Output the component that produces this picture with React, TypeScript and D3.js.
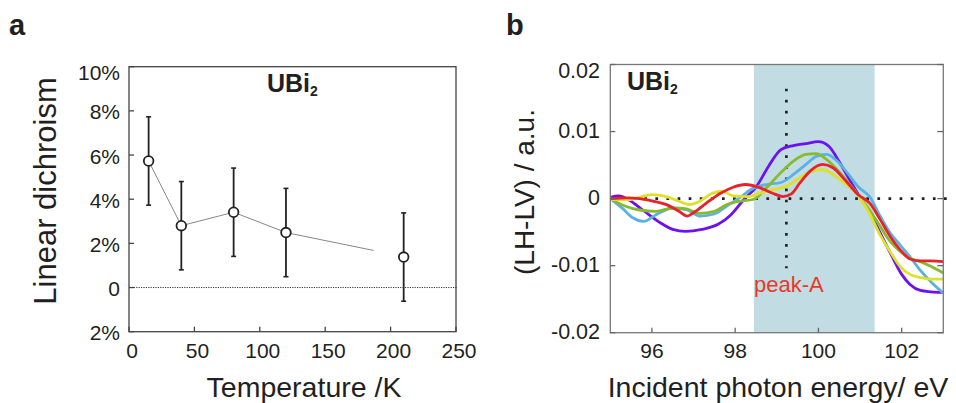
import React from "react";
import * as d3 from "d3";

// ---- panel a data ----
const temperatures = [15, 40, 80, 120, 210];
const dichroism = [5.73, 2.8, 3.41, 2.49, 1.38];
const dichroismErr = [2.0, 2.0, 2.0, 2.0, 2.0];
const guideT = [15, 40, 80, 120, 187];
const guideV = [5.73, 2.8, 3.41, 2.49, 1.68];
const tempTicks = [0, 50, 100, 150, 200, 250];
const ldTicks = [-2, 0, 2, 4, 6, 8, 10];
const ldTickLabels = ["2%", "0", "2%", "4%", "6%", "8%", "10%"];

// ---- panel b data ----
const energyTicks = [96, 98, 100, 102];
const ldSignalTicks = [-0.02, -0.01, 0, 0.01, 0.02];
const ldSignalLabels = ["-0.02", "-0.01", "0", "0.01", "0.02"];
const peakBand = [98.45, 101.35];
const peakLine = 99.23;

const purpleCurve: [number, number][] = [
  [95.0, 0.0002], [95.2, 0.0004], [95.45, -0.0002], [95.8, -0.0018], [96.2, -0.0036],
  [96.5, -0.0046], [96.8, -0.0049], [97.2, -0.0046], [97.6, -0.0038], [97.9, -0.0024],
  [98.2, -0.0002], [98.5, 0.0017], [98.8, 0.0048], [99.1, 0.0073], [99.4, 0.0079],
  [99.7, 0.0082], [100.0, 0.0085], [100.25, 0.0078], [100.5, 0.0055], [100.75, 0.0028],
  [101.0, 0.0002], [101.25, -0.0022], [101.5, -0.0053], [101.75, -0.0084], [102.0, -0.0113],
  [102.2, -0.0128], [102.45, -0.0137], [102.7, -0.0139], [103.0, -0.014],
];
const blueCurve: [number, number][] = [
  [95.0, 0], [95.3, -0.0015], [95.55, -0.0029], [95.8, -0.0034], [96.1, -0.0024],
  [96.5, -0.0014], [96.85, -0.0017], [97.15, -0.0026], [97.5, -0.0023], [97.8, -0.0011],
  [98.1, 0.0001], [98.45, 0.0016], [98.75, 0.0021], [99.1, 0.0024], [99.4, 0.0036],
  [99.7, 0.0051], [99.95, 0.0063], [100.2, 0.0066], [100.45, 0.0056], [100.7, 0.0038],
  [100.95, 0.0018], [101.24, 0.0002], [101.48, -0.0026], [101.72, -0.0051], [101.96, -0.0069],
  [102.2, -0.0087], [102.45, -0.0107], [102.7, -0.0124], [103.0, -0.0141],
];
const greenCurve: [number, number][] = [
  [95.0, 0], [95.35, -0.0011], [95.7, -0.0017], [96.1, -0.0019], [96.5, -0.0014],
  [96.8, -0.0015], [97.15, -0.0022], [97.5, -0.0019], [97.8, -0.0009], [98.1, -0.0004],
  [98.45, -0.0001], [98.75, 0.0016], [99.1, 0.0039], [99.4, 0.0056], [99.7, 0.0066],
  [99.95, 0.0067], [100.2, 0.0058], [100.45, 0.0043], [100.7, 0.0025], [100.95, 0.0006],
  [101.2, -0.0015], [101.45, -0.0038], [101.7, -0.0062], [101.95, -0.0078], [102.2, -0.0089],
  [102.45, -0.0094], [102.7, -0.0101], [103.0, -0.0111],
];
const yellowCurve: [number, number][] = [
  [95.0, -0.0001], [95.4, -0.0002], [95.7, 0.0002], [96.0, 0.0006], [96.35, 0.0003],
  [96.65, -0.0004], [96.9, -0.0009], [97.15, -0.0004], [97.45, 0.0008], [97.7, 0.0011],
  [97.95, 0.0004], [98.3, 0.0003], [98.6, 0.0008], [98.9, 0.0013], [99.25, 0.0019],
  [99.55, 0.0031], [99.85, 0.0041], [100.1, 0.0043], [100.35, 0.0036], [100.65, 0.0022],
  [100.9, 0.0009], [101.2, -0.0019], [101.48, -0.0054], [101.72, -0.0079], [101.96, -0.0101],
  [102.2, -0.0113], [102.45, -0.0118], [102.7, -0.012], [103.0, -0.012],
];
const redCurve: [number, number][] = [
  [95.0, 0], [95.4, 0.0001], [95.7, 0], [96.05, -0.0004], [96.35, -0.0009],
  [96.65, -0.0019], [96.85, -0.0026], [97.0, -0.0021], [97.3, -0.0007], [97.65, 0.0008],
  [97.95, 0.0017], [98.25, 0.0021], [98.6, 0.0016], [98.9, 0.0008], [99.15, 0.0003],
  [99.35, 0.0007], [99.55, 0.0023], [99.8, 0.0041], [100.1, 0.0051], [100.35, 0.0046],
  [100.65, 0.0027], [100.95, 0.0006], [101.25, -0.0008], [101.48, -0.0031], [101.72, -0.0056],
  [101.96, -0.0076], [102.2, -0.009], [102.45, -0.0093], [102.7, -0.0093], [103.0, -0.0094],
];
const curves = [
  { name: "purple", color: "#6d12ee", pts: purpleCurve },
  { name: "blue", color: "#5cb1e3", pts: blueCurve },
  { name: "green", color: "#86bb30", pts: greenCurve },
  { name: "yellow", color: "#dfe028", pts: yellowCurve },
  { name: "red", color: "#e7222b", pts: redCurve },
];

const font = "'Liberation Sans', Arial, Helvetica, sans-serif";
const ink = "#231f20";

function PanelA() {
  const L = 129, R = 456, T = 66.7, B = 331.7;
  const x = d3.scaleLinear().domain([0, 250]).range([L, R]);
  const y = d3.scaleLinear().domain([-2, 10]).range([B, T]);
  const guide = d3.line<number>().x((_, i) => x(guideT[i])).y((v) => y(v));

  return (
    <g>
      <text x={9} y={35} fontSize={29} fontWeight="bold" fill={ink}>a</text>
      {/* zero line */}
      <line x1={L} x2={R + 1} y1={y(0)} y2={y(0)} stroke="#333" strokeWidth={1} strokeDasharray="1.2 1.2" />
      {/* frame */}
      <rect x={L} y={T} width={R - L} height={B - T} fill="none" stroke="#444" strokeWidth={1.3} />
      {tempTicks.map((t) => (
        <g key={"tx" + t}>
          <line x1={x(t)} x2={x(t)} y1={B} y2={B - 5} stroke="#444" strokeWidth={1.3} />
          <text x={x(t) + 3} y={358} textAnchor="middle" fontSize={21} fill={ink}>{t}</text>
        </g>
      ))}
      {ldTicks.map((v, i) => (
        <g key={"ty" + v}>
          <line x1={L} x2={L + 5} y1={y(v)} y2={y(v)} stroke="#444" strokeWidth={1.3} />
          <text x={120} y={Math.max(y(v), T + 5) + 3} textAnchor="end" dominantBaseline="middle" fontSize={21} fill={ink}>
            {ldTickLabels[i]}
          </text>
        </g>
      ))}
      <path d={guide(guideV) || ""} fill="none" stroke="#888" strokeWidth={1} />
      {temperatures.map((t, i) => (
        <g key={"p" + t}>
          <line x1={x(t)} x2={x(t)} y1={y(dichroism[i] - dichroismErr[i])} y2={y(dichroism[i] + dichroismErr[i])} stroke="#222" strokeWidth={1.8} />
          <line x1={x(t) - 2.5} x2={x(t) + 2.5} y1={y(dichroism[i] + dichroismErr[i])} y2={y(dichroism[i] + dichroismErr[i])} stroke="#222" strokeWidth={1.6} />
          <line x1={x(t) - 2.5} x2={x(t) + 2.5} y1={y(dichroism[i] - dichroismErr[i])} y2={y(dichroism[i] - dichroismErr[i])} stroke="#222" strokeWidth={1.6} />
          <circle cx={x(t)} cy={y(dichroism[i])} r={4.8} fill="#fff" stroke="#222" strokeWidth={1.8} />
        </g>
      ))}
      <text x={267} y={92} fontSize={25} fontWeight="bold" fill={ink}>
        UBi<tspan fontSize={14} dy={4}>2</tspan>
      </text>
      <text x={48} y={191} transform="rotate(-90 48 191)" textAnchor="middle" dominantBaseline="middle" fontSize={31} fill={ink}>
        Linear dichroism
      </text>
      <text x={304} y={397} textAnchor="middle" fontSize={28.5} fill={ink}>Temperature /K</text>
    </g>
  );
}

function PanelB() {
  const L = 610.3, R = 943.3, T = 64.5, B = 332.7;
  const x = d3.scaleLinear().domain([95, 103]).range([L, R]);
  const y = d3.scaleLinear().domain([-0.02, 0.02]).range([B, T]);
  const line = d3
    .line<[number, number]>()
    .x((d) => x(d[0]))
    .y((d) => y(d[1]))
    .curve(d3.curveMonotoneX);

  return (
    <g>
      <text x={506} y={35} fontSize={29} fontWeight="bold" fill={ink}>b</text>
      <defs>
        <clipPath id="clipB">
          <rect x={L} y={T} width={R - L} height={B - T} />
        </clipPath>
      </defs>
      <rect x={x(peakBand[0])} y={T} width={x(peakBand[1]) - x(peakBand[0])} height={B - T} fill="#c1dce2" />
      {/* dotted guides */}
      <line x1={x(95.55)} x2={x(103.15)} y1={y(0)} y2={y(0)} stroke="#222" strokeWidth={2.7} strokeDasharray="2.7 8.4" />
      <line x1={x(peakLine)} x2={x(peakLine)} y1={y(0.0164)} y2={y(-0.0104)} stroke="#222" strokeWidth={2.7} strokeDasharray="2.7 8.4" />
      <g clipPath="url(#clipB)">
        {curves.map((c) => (
          <path key={c.name} d={line(c.pts) || ""} fill="none" stroke={c.color} strokeWidth={2.8} strokeLinejoin="round" />
        ))}
      </g>
      {/* frame */}
      <rect x={L} y={T} width={R - L} height={B - T} fill="none" stroke="#777" strokeWidth={1.3} />
      {energyTicks.map((e) => (
        <g key={"ex" + e}>
          <line x1={x(e)} x2={x(e)} y1={B} y2={B - 5} stroke="#666" strokeWidth={1.3} />
          <text x={x(e)} y={358} textAnchor="middle" fontSize={21} fill={ink}>{e}</text>
        </g>
      ))}
      {ldSignalTicks.map((v, i) => (
        <g key={"ey" + v}>
          <line x1={L} x2={L + 5} y1={y(v)} y2={y(v)} stroke="#666" strokeWidth={1.3} />
          <line x1={R} x2={R - 6} y1={y(v)} y2={y(v)} stroke="#666" strokeWidth={1.3} />
          <text x={600} y={Math.max(y(v), T + 7) + 1} textAnchor="end" dominantBaseline="middle" fontSize={21.5} fill={ink}>
            {ldSignalLabels[i]}
          </text>
        </g>
      ))}
      <text x={754} y={292} fontSize={22} fill="#e8392b">peak-A</text>
      <text x={627} y={90} fontSize={25} fontWeight="bold" fill={ink}>
        UBi<tspan fontSize={14} dy={4}>2</tspan>
      </text>
      <text x={527} y={192} transform="rotate(-90 527 192)" textAnchor="middle" dominantBaseline="middle" fontSize={28} fill={ink}>
        (LH-LV) / a.u.
      </text>
      <text x={778} y={397} textAnchor="middle" fontSize={28.5} fill={ink}>Incident photon energy/ eV</text>
    </g>
  );
}

export default function App() {
  return (
    <svg
      width={956}
      height={403}
      viewBox="0 0 956 403"
      style={{ position: "absolute", left: 0, top: 0, background: "#fff" }}
      fontFamily={font}
    >
      <rect x={0} y={0} width={956} height={403} fill="#fff" />
      <PanelA />
      <PanelB />
    </svg>
  );
}
